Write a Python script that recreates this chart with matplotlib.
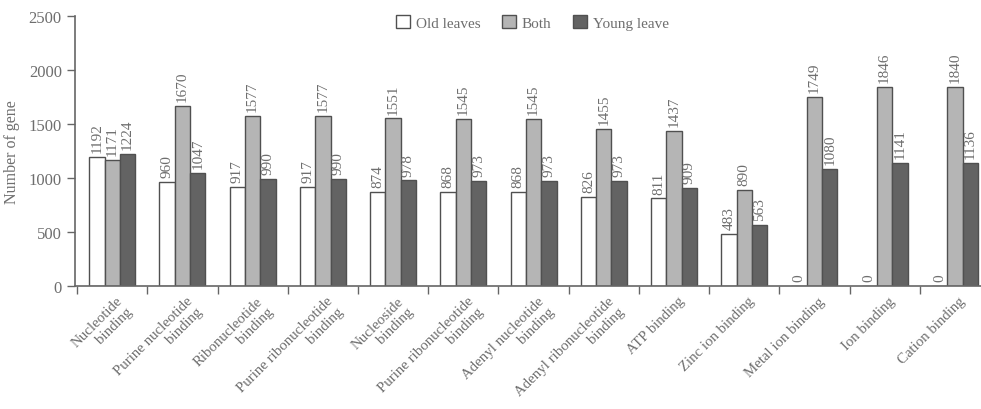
import matplotlib.pyplot as plt
import numpy as np

plt.rcParams['font.family'] = ['Liberation Serif', 'DejaVu Serif']

categories = ["Nucleotide\nbinding", "Purine nucleotide\nbinding", "Ribonucleotide\nbinding",
              "Purine ribonucleotide\nbinding", "Nucleoside\nbinding",
              "Purine ribonucleotide\nbinding", "Adenyl nucleotide\nbinding",
              "Adenyl ribonucleotide\nbinding", "ATP binding", "Zinc ion binding",
              "Metal ion binding", "Ion binding", "Cation binding"]
old_leaves = [1192, 960, 917, 917, 874, 868, 868, 826, 811, 483, 0, 0, 0]
both = [1171, 1670, 1577, 1577, 1551, 1545, 1545, 1455, 1437, 890, 1749, 1846, 1840]
young_leave = [1224, 1047, 990, 990, 978, 973, 973, 973, 909, 563, 1080, 1141, 1136]

txt = '#6e6e6e'
edge = '#505050'

fig = plt.figure(figsize=(9.81, 4.10), dpi=100)
ax = fig.add_axes([75/981, 123/410, 915/981, 270/410])

x = np.arange(len(categories)) + 0.5
w = 0.218
series = [(old_leaves, 'white', 'Old leaves'),
          (both, '#b5b5b5', 'Both'),
          (young_leave, '#636363', 'Young leave')]
for k, (vals, col, name) in enumerate(series):
    pos = x + (k - 1) * w
    ax.bar(pos, vals, w, color=col, edgecolor=edge, linewidth=1.0, label=name)
    for p, v in zip(pos, vals):
        ax.text(p, v + 45, str(v), rotation=90, ha='center', va='bottom',
                fontsize=11, color=txt)

ax.set_xlim(-0.03, 13.0)
ax.set_ylim(0, 2500)
ax.set_yticks(range(0, 2501, 500))
ax.set_xticks(np.arange(0, 13))
ax.set_xticklabels([])
ax.tick_params(axis='both', direction='out', length=6, width=1, color='#666666',
               labelcolor=txt, labelsize=12)
for s in ['top', 'right']:
    ax.spines[s].set_visible(False)
for s in ['left', 'bottom']:
    ax.spines[s].set_color('#666666')
    ax.spines[s].set_linewidth(1.2)

# category names, rotated, right end at the group centre
for xi, lab in zip(x, categories):
    ax.text(xi + 0.05, -75, lab, rotation=45, rotation_mode='anchor',
            ha='right', va='top', multialignment='right',
            fontsize=10.7, color=txt, linespacing=1.15)

ax.set_ylabel('Number of gene', fontsize=11.5, color=txt, labelpad=6)

ax.legend(loc='center', bbox_to_anchor=(0.5, 0.975), ncol=3, frameon=False,
          fontsize=11, labelcolor=txt, handlelength=0.9, handleheight=0.9,
          columnspacing=1.4, handletextpad=0.4)

fig.savefig('out.png', dpi=100)
